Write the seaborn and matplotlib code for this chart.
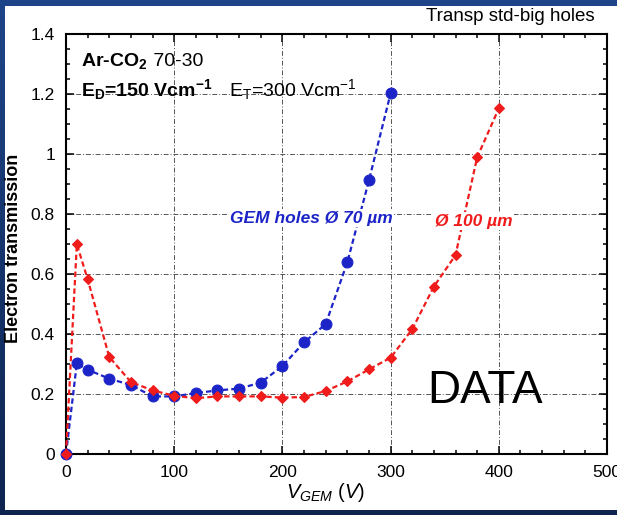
import numpy as np
import matplotlib
matplotlib.use("Agg")
import matplotlib.pyplot as plt
from matplotlib.patches import Rectangle
from matplotlib.ticker import MultipleLocator, FuncFormatter
import seaborn as sns

# GEM voltage (V) and electron transmission, 70 um holes
v_gem_70 = [0, 10, 20, 40, 60, 80, 100, 120, 140, 160, 180, 200, 220, 240, 260, 280, 300]
trans_70 = [0.0, 0.302, 0.281, 0.251, 0.230, 0.192, 0.192, 0.203, 0.212, 0.218, 0.238,
            0.293, 0.372, 0.433, 0.639, 0.912, 1.202]

# GEM voltage (V) and electron transmission, 100 um holes
v_gem_100 = [0, 10, 20, 40, 60, 80, 100, 120, 140, 160, 180, 200, 220, 240, 260, 280,
             300, 320, 340, 360, 380, 400]
trans_100 = [0.0, 0.699, 0.583, 0.323, 0.240, 0.212, 0.194, 0.186, 0.192, 0.192, 0.192,
             0.188, 0.190, 0.210, 0.242, 0.282, 0.321, 0.416, 0.558, 0.663, 0.989, 1.152]

x_ticks = [0, 100, 200, 300, 400, 500]
y_ticks = [0, 0.2, 0.4, 0.6, 0.8, 1.0, 1.2, 1.4]

BLUE = "#1c24c8"
RED = "#f01c1c"

sns.set_style("ticks")
plt.rcParams["font.family"] = ["Liberation Sans", "DejaVu Sans"]
plt.rcParams["text.color"] = "black"
plt.rcParams["axes.labelcolor"] = "black"
plt.rcParams["xtick.color"] = "black"
plt.rcParams["ytick.color"] = "black"
plt.rcParams["mathtext.fontset"] = "custom"
plt.rcParams["mathtext.rm"] = "Liberation Sans"
plt.rcParams["mathtext.it"] = "Liberation Sans:italic"
plt.rcParams["mathtext.bf"] = "Liberation Sans:bold"

W, H = 617, 515
fig = plt.figure(figsize=(W / 100, H / 100), dpi=100)

# slide-style navy backdrop with a white panel
bg = fig.add_axes([0, 0, 1, 1], zorder=-3)
grad = np.linspace(0, 1, 256).reshape(-1, 1)
cmap = matplotlib.colors.LinearSegmentedColormap.from_list("navy", ["#1e4589", "#0e244f"])
bg.imshow(grad, aspect="auto", cmap=cmap, extent=[0, 1, 0, 1])
bg.set_axis_off()
fig.patches.append(Rectangle((5 / W, 5 / H), (W - 5) / W, (H - 11) / H,
                             transform=fig.transFigure, facecolor="white",
                             edgecolor="none", zorder=-2))

ax = fig.add_axes([66 / W, 61 / H, 541 / W, 420 / H])
ax.set_facecolor("white")

sns.lineplot(x=v_gem_70, y=trans_70, ax=ax, color=BLUE, marker="o", markersize=7.8,
             markeredgecolor=BLUE, markeredgewidth=0.8, linewidth=1.6, linestyle="--",
             estimator=None, sort=False, errorbar=None, zorder=3)
sns.lineplot(x=v_gem_100, y=trans_100, ax=ax, color=RED, marker="D", markersize=4.6,
             markeredgecolor=RED, markeredgewidth=0.8, linewidth=1.6, linestyle="--",
             estimator=None, sort=False, errorbar=None, zorder=4)
for ln in ax.lines:
    ln.set_dashes([2.4, 1.4])
    ln.set_clip_on(False)

ax.set_xlim(0, 500)
ax.set_ylim(0, 1.4)
ax.set_xticks(x_ticks)
ax.set_yticks(y_ticks)
ax.xaxis.set_minor_locator(MultipleLocator(20))
ax.yaxis.set_minor_locator(MultipleLocator(0.05))
ax.yaxis.set_major_formatter(FuncFormatter(lambda v, p: f"{v:g}"))
ax.tick_params(which="both", direction="in", top=True, right=True, colors="black",
               labelcolor="black", labelsize=12.5, width=1.1)
ax.tick_params(which="major", length=5.5, pad=8)
ax.tick_params(which="minor", length=3)
for s in ax.spines.values():
    s.set_linewidth(1.5)
    s.set_color("black")
ax.grid(True, which="major", color="#555555", linewidth=0.7,
        linestyle=(0, (5, 2, 1, 2)))
ax.set_xlabel("")
ax.set_ylabel("")

fig.text(14 / W, 1 - 248 / H, "Electron transmission", rotation=90, ha="center",
         va="center", fontsize=13, fontweight="bold", color="black")
fig.text(326 / W, 1 - 498 / H, r"$V_{GEM}$ $\mathit{(V)}$", ha="center", va="baseline",
         fontsize=14.5, color="black")
fig.text(595 / W, 1 - 20.7 / H, "Transp std-big holes", ha="right", va="baseline",
         fontsize=13.5, color="black")

# gas / field annotation: bold part followed by regular part on the same baseline
renderer = fig.canvas.get_renderer()


def run_on(ax, x, y, first, second, size):
    t1 = ax.text(x, y, first, fontsize=size, fontweight="bold", va="baseline",
                 color="black", zorder=6)
    bb = t1.get_window_extent(renderer=renderer)
    x2 = ax.transData.inverted().transform((bb.x1, 0))[0]
    ax.text(x2, y, second, fontsize=size, va="baseline", color="black", zorder=6)


run_on(ax, 13.9, 1.292, r"Ar-CO$_\mathbf{2}$", " 70-30", 14)
run_on(ax, 13.9, 1.192, r"E$_\mathbf{D}$=150 Vcm$^\mathbf{-1}$",
       r"   E$_\mathrm{T}$=300 Vcm$^\mathrm{-1}$", 14)

box = dict(facecolor="white", edgecolor="none", pad=1)
ax.text(302, 0.771, "GEM holes Ø 70 µm", color=BLUE, fontsize=12.5, fontweight="bold",
        fontstyle="italic", ha="right", va="baseline", bbox=box, zorder=5)
ax.text(340.7, 0.761, "Ø 100 µm", color=RED, fontsize=12.5, fontweight="bold",
        fontstyle="italic", ha="left", va="baseline", bbox=box, zorder=5)

ax.text(334, 0.170, "DATA", fontsize=33, color="black", va="baseline", zorder=7)

fig.savefig("out.png", dpi=100)
